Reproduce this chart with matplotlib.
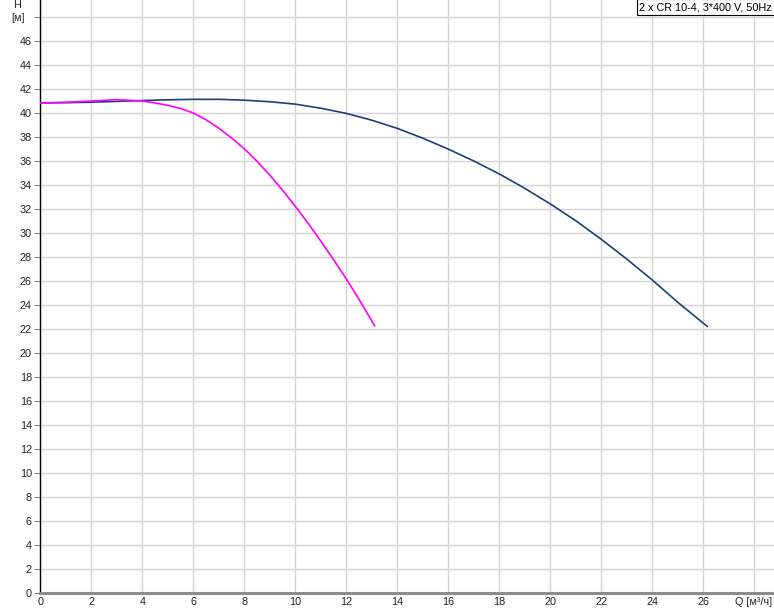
import numpy as np
import matplotlib.pyplot as plt

# Pump curve data (Q in m3/h, H in m) -------------
q_two = [0, 1, 2, 3, 4, 5, 6, 7, 8, 9, 10, 11, 12, 13, 14, 15, 16, 17, 18, 19,
         20, 21, 22, 23, 24, 25, 26.15]
h_two = [40.82, 40.84, 40.88, 40.95, 41.02, 41.08, 41.12, 41.12, 41.05, 40.92,
         40.72, 40.38, 39.95, 39.38, 38.7, 37.88, 36.97, 35.98, 34.9, 33.7,
         32.4, 31.0, 29.45, 27.8, 26.06, 24.2, 22.2]
q_one = [0, 1, 2, 3, 4, 4.5, 5, 5.5, 6, 6.5, 7, 7.5, 8, 8.5, 9, 9.5, 10, 10.5,
         11, 11.5, 12, 12.5, 13.11]
h_one = [40.82, 40.88, 40.98, 41.1, 40.98, 40.82, 40.62, 40.36, 39.98, 39.42,
         38.72, 37.9, 37.0, 35.95, 34.8, 33.55, 32.2, 30.8, 29.3, 27.75,
         26.15, 24.45, 22.25]
x_ticks = list(range(0, 27, 2))
y_ticks = list(range(0, 47, 2))
title_text = '2 x CR 10-4, 3*400 V, 50Hz'
# -------------------------------------------------

plt.rcParams['font.family'] = ['Liberation Sans', 'DejaVu Sans']

W, H = 774, 611
fig = plt.figure(figsize=(W/100, H/100), dpi=100)
ax = fig.add_axes([40.3/W, 18.3/H, 1 - 40.3/W, 1 - 18.3/H])

ax.set_xlim(0, 28.77)
ax.set_ylim(0, 49.4)

ax.set_xticks(x_ticks + [28])
ax.set_xticklabels([str(v) for v in x_ticks] + [''])
ax.set_yticks(y_ticks + [48])
ax.set_yticklabels([str(v) for v in y_ticks] + [''])

ax.grid(True, color='#d4d4d4', linewidth=1.0)
ax.set_axisbelow(True)

fs = 7.8
ax.tick_params(axis='y', length=4, width=0.8, color='#808080', pad=2,
               labelsize=fs, labelcolor='#222222')
ax.tick_params(axis='x', length=0, pad=3, labelsize=fs, labelcolor='#222222')

for s in ['top', 'right']:
    ax.spines[s].set_visible(False)
ax.spines['left'].set_color('black')
ax.spines['left'].set_linewidth(1.0)
ax.spines['bottom'].set_color('#8c8c8c')
ax.spines['bottom'].set_linewidth(2.2)

ax.plot(q_two, h_two, color='#1c3f78', linewidth=1.2, zorder=3,
        solid_joinstyle='round')
ax.plot(q_one, h_one, color='#ff00ff', linewidth=1.2, zorder=4,
        solid_joinstyle='round')

fig.text(13/W, 1 - 5/H, 'H', fontsize=fs, color='#222222', ha='left', va='center')
fig.text(11/W, 1 - 18/H, '[м]', fontsize=fs, color='#222222', ha='left', va='center')
fig.text(735/W, 1 - 602/H, 'Q [м³/ч]', fontsize=fs, color='#222222',
         ha='left', va='center')

fig.text(1 - 2/W, 1 - 7/H, title_text, fontsize=fs, color='black',
         ha='right', va='center',
         bbox=dict(boxstyle='square,pad=0.25', facecolor='white',
                   edgecolor='black', linewidth=0.8))

fig.savefig('out.png', dpi=100)
